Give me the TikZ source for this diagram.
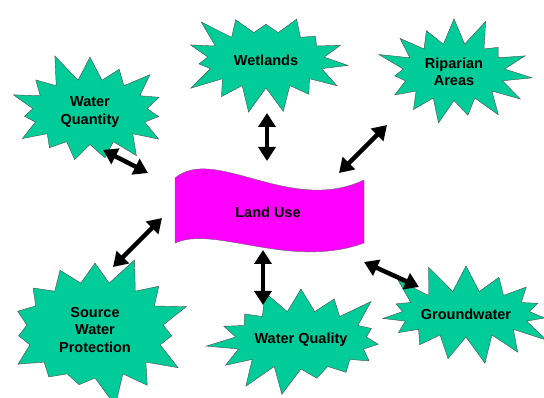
\documentclass[tikz,border=0pt]{standalone}
\usepackage{fontspec}
\setmainfont{Liberation Sans}
\usetikzlibrary{shapes.symbols,arrows.meta}
\definecolor{burstgreen}{RGB}{0,204,153}
\definecolor{flagpink}{RGB}{255,0,255}

\begin{document}
\begin{tikzpicture}[x=1pt,y=-1pt]
\tikzstyle{every node}=[font=\fontsize{14.5}{17.5}\selectfont\bfseries,align=center]
\tikzstyle{burst}=[starburst,draw=black!70,fill=burstgreen,thin,
  starburst points=15,starburst point height=30pt,inner sep=0pt]
\tikzstyle{link}=[line width=4.5pt,{Triangle[width=17pt,length=14pt]}-{Triangle[width=17pt,length=14pt]}]
\useasboundingbox (0,0) rectangle (544,398);

%% Land use flag in the middle
\draw[fill=flagpink,draw=black!60,thin] (175,178) .. controls (215,145) and (290,215) .. (364,180)
  -- (364,243) .. controls (290,270) and (215,225) .. (175,243) -- cycle;
\node (landuse) at (268,212) {Land Use};

%% The six topics round it
\node [burst,random starburst=11,minimum width=175pt,minimum height=125pt] (quantity) at (90,112) {Water\\Quantity};
\node [burst,random starburst=23,minimum width=177pt,minimum height=116pt] (wetlands) at (266,60) {Wetlands};
\node [burst,random starburst=37,minimum width=162pt,minimum height=117pt] (riparian) at (454,72) {Riparian\\Areas};
\node [burst,random starburst=51,minimum width=197pt,minimum height=156pt] (source) at (95,330) {Source\\Water\\Protection};
\node [burst,random starburst=67,minimum width=184pt,minimum height=118pt] (quality) at (301,340) {Water Quality};
\node [burst,random starburst=83,minimum width=155pt,minimum height=106pt] (ground) at (466,314) {Groundwater};

%% Arrow ends
\coordinate (q1) at (103,150); \coordinate (q2) at (148,173);
\coordinate (w1) at (267,113); \coordinate (w2) at (267,161);
\coordinate (r1) at (387,125); \coordinate (r2) at (339,173);
\coordinate (s1) at (162,218); \coordinate (s2) at (113,267);
\coordinate (a1) at (263,250); \coordinate (a2) at (263,305);
\coordinate (g1) at (364,262); \coordinate (g2) at (419,287);

\draw[link] (q1) -- (q2);
\draw[link] (w1) -- (w2);
\draw[link] (r1) -- (r2);
\draw[link] (s1) -- (s2);
\draw[link] (a1) -- (a2);
\draw[link] (g1) -- (g2);
\end{tikzpicture}
\end{document}
